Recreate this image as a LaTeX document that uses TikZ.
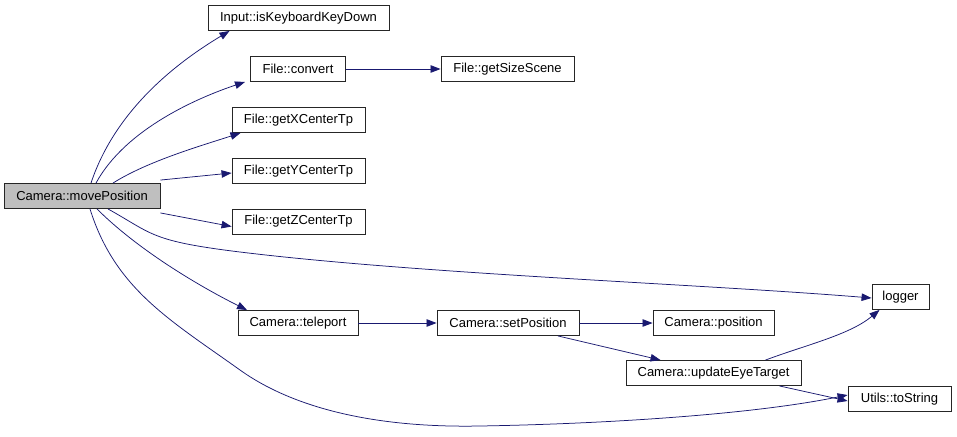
\documentclass[tikz,border=0pt]{standalone}
\usepackage{fontspec}
\setmainfont{Liberation Sans}
\usetikzlibrary{arrows.meta}
\definecolor{edgecol}{HTML}{191970}
\definecolor{hilite}{HTML}{BFBFBF}
\tikzset{
  fn/.style={draw=black!85, line width=0.9pt, fill=white, rectangle, inner sep=0pt, minimum height=25pt, font=\fontsize{13}{15}\selectfont, anchor=center},
  call/.style={draw=edgecol, line width=0.75pt, -{Triangle[length=10pt,width=7.5pt]}, fill=none}
}
\begin{document}
\begin{tikzpicture}[x=1pt,y=-1pt]
\useasboundingbox (0,0) rectangle (957,436);
\node[fn, fill=hilite, minimum width=156pt] (mp) at (82,196) {Camera::movePosition};
\node[fn, minimum width=181pt] (isk) at (298.5,18) {Input::isKeyboardKeyDown};
\node[fn, minimum width=95pt] (conv) at (298,69) {File::convert};
\node[fn, minimum width=133pt] (gss) at (507.5,69) {File::getSizeScene};
\node[fn, minimum width=133pt] (gx) at (298.5,120) {File::getXCenterTp};
\node[fn, minimum width=133pt] (gy) at (298.5,171) {File::getYCenterTp};
\node[fn, minimum width=133pt] (gz) at (298.5,221.5) {File::getZCenterTp};
\node[fn, minimum width=57pt] (log) at (900.5,297) {logger};
\node[fn, minimum width=120pt] (tp) at (298,323) {Camera::teleport};
\node[fn, minimum width=142pt] (sp) at (508,323) {Camera::setPosition};
\node[fn, minimum width=121pt] (pos) at (713.5,323) {Camera::position};
\node[fn, minimum width=175pt] (uet) at (713.5,373) {Camera::updateEyeTarget};
\node[fn, minimum width=103pt] (ts) at (899.5,399) {Utils::toString};

\draw[call] ([xshift=9pt]mp.north) .. controls +(25,-75) and +(-50,30) .. ([xshift=-69pt]isk.south);
\draw[call] ([xshift=14pt]mp.north) .. controls +(30,-55) and +(-45,15) .. ([xshift=-53pt]conv.south);
\draw[call] ([xshift=31pt]mp.north) .. controls +(35,-22) and +(-40,13) .. ([xshift=-58pt]gx.south);
\draw[call] ([yshift=3pt]mp.north east) -- ([yshift=-2pt]gy.west);
\draw[call] ([yshift=-4pt]mp.south east) -- ([yshift=-5pt]gz.west);
\draw[call] ([xshift=26pt]mp.south) .. controls +(45,25) and +(-90,-11) .. (240,252) .. controls (420,274) and (700,284) .. ([yshift=-1pt]log.west);
\draw[call] ([xshift=15pt]mp.south) .. controls +(40,40) and +(-50,-25) .. ([xshift=-51pt]tp.north);
\draw[call] ([xshift=8pt]mp.south) .. controls +(25,80) and +(-70,-50) .. (240,370) .. controls (296,410) and (380,428) .. (480,426) .. controls (600,424) and (750,415) .. ([yshift=4pt]ts.west);
\draw[call] (conv.east) -- (gss.west);
\draw[call] (tp.east) -- (sp.west);
\draw[call] (sp.east) -- (pos.west);
\draw[call] ([xshift=50pt]sp.south) -- ([xshift=-53pt]uet.north);
\draw[call] ([xshift=52pt]uet.north) .. controls +(40,-15) and +(-30,25) .. ([xshift=-21pt]log.south);
\draw[call] ([xshift=66pt]uet.south) -- ([yshift=-2pt]ts.west);
\end{tikzpicture}
\end{document}
